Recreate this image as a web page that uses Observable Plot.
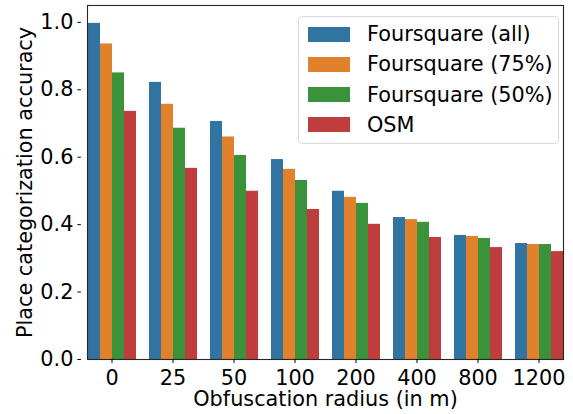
<!DOCTYPE html>
<html>
<head>
<meta charset="utf-8">
<script src="https://cdn.jsdelivr.net/npm/d3@7"></script>
<script src="https://cdn.jsdelivr.net/npm/@observablehq/plot@0.6"></script>
<style>
  html, body { margin: 0; padding: 0; background: #fff; }
  #wrap { position: relative; width: 573px; height: 414px; font-family: "DejaVu Sans", sans-serif; }
  #legend { position: absolute; left: 298px; top: 16px; width: 259px; height: 126px;
    border: 1px solid #d9d9d9; border-radius: 4px; background: rgba(255,255,255,0.85); box-sizing: content-box; }
  .row { position: absolute; left: 9px; height: 30px; display: flex; align-items: center; }
  .sw { width: 42px; height: 15px; margin-right: 17px; }
  .lab { font-size: 20.8px; color: #000; white-space: nowrap; line-height: 20px; }
</style>
</head>
<body>
<div id="wrap"></div>
<script>
const radii = ["0", "25", "50", "100", "200", "400", "800", "1200"];
const seriesNames = ["Foursquare (all)", "Foursquare (75%)", "Foursquare (50%)", "OSM"];
const seriesColors = ["#3274a1", "#e1812c", "#3a923a", "#c03d3e"];
const foursquareAll = [0.997, 0.822, 0.706, 0.593, 0.499, 0.421, 0.368, 0.344];
const foursquare75 = [0.936, 0.757, 0.660, 0.564, 0.481, 0.415, 0.365, 0.341];
const foursquare50 = [0.850, 0.686, 0.605, 0.531, 0.463, 0.407, 0.359, 0.341];
const osm = [0.736, 0.567, 0.499, 0.445, 0.401, 0.362, 0.332, 0.320];
const yTicks = [0, 0.2, 0.4, 0.6, 0.8, 1.0];

const seriesValues = [foursquareAll, foursquare75, foursquare50, osm];
const data = [];
radii.forEach((r, i) => {
  seriesNames.forEach((s, j) => {
    data.push({radius: r, series: s, value: seriesValues[j][i]});
  });
});

const W = 573, H = 414, ML = 80, MR = 4, MT = 5, MB = 55;
const PAD_OUTER = 0.1;
const step = (W - ML - MR) / radii.length;
const FS = 20.8;

const chart = Plot.plot({
  width: W,
  height: H,
  marginLeft: ML,
  marginRight: MR,
  marginTop: MT,
  marginBottom: MB,
  style: {fontFamily: "DejaVu Sans, sans-serif", fontSize: FS + "px", color: "#000", background: "#fff"},
  fx: {domain: radii, paddingInner: 0.2, paddingOuter: PAD_OUTER, axis: null},
  x: {domain: seriesNames, padding: 0, axis: null},
  y: {domain: [0, 1.05], axis: null},
  color: {domain: seriesNames, range: seriesColors},
  marks: [
    Plot.barY(data, {fx: "radius", x: "series", y: "value", fill: "series"}),
    Plot.frame({facet: "super", stroke: "#262626", strokeWidth: 1.1}),
    Plot.axisY({
      anchor: "left",
      ticks: yTicks,
      tickFormat: d3.format(".1f"),
      tickSize: 3.5,
      tickPadding: 4.5,
      fontSize: FS,
      dx: -step * PAD_OUTER,
      label: "Place categorization accuracy",
      labelAnchor: "center",
      labelArrow: "none",
      labelOffset: 70
    }),
    Plot.axisFx({
      anchor: "bottom",
      tickSize: 4,
      tickPadding: 6.5,
      fontSize: FS,
      label: "Obfuscation radius (in m)",
      labelAnchor: "center",
      labelArrow: "none",
      labelOffset: 46
    })
  ]
});

const wrap = document.getElementById("wrap");
wrap.appendChild(chart);

const legend = document.createElement("div");
legend.id = "legend";
seriesNames.forEach((name, j) => {
  const row = document.createElement("div");
  row.className = "row";
  row.style.top = (2 + j * 30.3) + "px";
  const sw = document.createElement("div");
  sw.className = "sw";
  sw.style.background = seriesColors[j];
  const lab = document.createElement("span");
  lab.className = "lab";
  lab.textContent = name;
  row.appendChild(sw);
  row.appendChild(lab);
  legend.appendChild(row);
});
wrap.appendChild(legend);
</script>
</body>
</html>
